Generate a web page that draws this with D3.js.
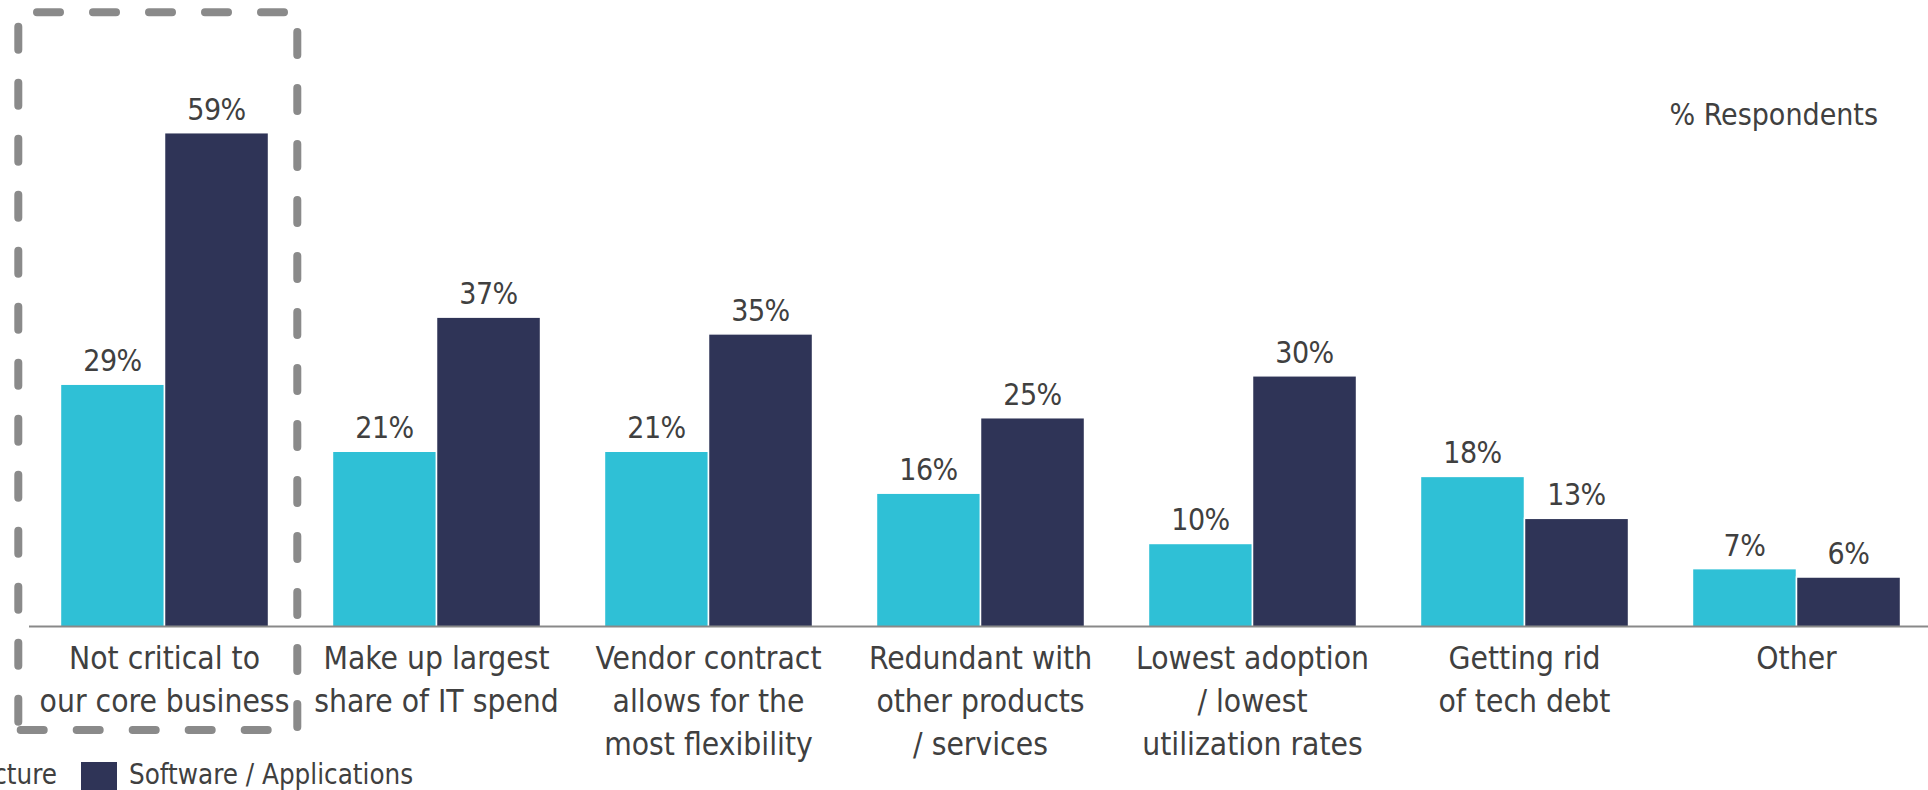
<!DOCTYPE html>
<html>
<head>
<meta charset="utf-8">
<script src="https://cdn.jsdelivr.net/npm/d3@7"></script>
<style>
  html, body { margin: 0; padding: 0; background: #fff; overflow: hidden; }
  svg { display: block; }
  text { font-family: "DejaVu Sans Condensed", "DejaVu Sans", sans-serif; font-stretch: condensed; fill: #404040; }
</style>
</head>
<body>
<svg id="chart" width="1928" height="790"></svg>
<script>
// Reasons given for cutting a vendor, by spend type
const categories = [
  "Not critical to\nour core business",
  "Make up largest\nshare of IT spend",
  "Vendor contract\nallows for the\nmost flexibility",
  "Redundant with\nother products\n/ services",
  "Lowest adoption\n/ lowest\nutilization rates",
  "Getting rid\nof tech debt",
  "Other"
];
const seriesNames = ["Infrastructure", "Software / Applications"];
const infrastructure = [29, 21, 21, 16, 10, 18, 7];
const software = [59, 37, 35, 25, 30, 13, 6];
const seriesColors = ["#2fc0d6", "#2f3457"];

const rows = categories.map((c, i) => ({ category: c, values: [infrastructure[i], software[i]] }));

const svg = d3.select("#chart");

const x = d3.scaleBand()
  .domain(categories)
  .range([28.5, 1932.5])
  .paddingInner(0.235)
  .paddingOuter(0.1175);

const xSeries = d3.scaleBand()
  .domain(d3.range(seriesNames.length))
  .range([0, x.bandwidth()]);

const y = d3.scaleLinear().domain([0, 59]).range([627.3, 132.7]);

// Bars
const groups = svg.append("g").selectAll("g")
  .data(rows)
  .join("g")
  .attr("transform", d => `translate(${x(d.category)},0)`);

groups.selectAll("rect")
  .data(d => d.values.map((v, s) => ({ v, s })))
  .join("rect")
  .attr("x", d => xSeries(d.s))
  .attr("width", xSeries.bandwidth())
  .attr("y", d => y(d.v))
  .attr("height", d => y(0) - y(d.v))
  .attr("fill", d => seriesColors[d.s])
  .attr("stroke", "#ffffff")
  .attr("stroke-width", 1.5);

// Value labels
groups.selectAll("text.value")
  .data(d => d.values.map((v, s) => ({ v, s })))
  .join("text")
  .attr("class", "value")
  .attr("x", d => xSeries(d.s) + xSeries.bandwidth() / 2)
  .attr("y", d => y(d.v) - 13)
  .attr("text-anchor", "middle")
  .style("font-size", "30px")
  .style("letter-spacing", "-0.5px")
  .text(d => d.v + "%");

// Baseline axis
const xAxis = d3.axisBottom(x).tickSize(0).tickFormat("");
const axisG = svg.append("g").attr("transform", "translate(0,626)").call(xAxis);
axisG.select(".domain").attr("stroke", "#898989").attr("stroke-width", 2);

// Category labels (multi-line)
const labelG = svg.append("g");
labelG.selectAll("text")
  .data(categories)
  .join("text")
  .attr("text-anchor", "middle")
  .style("font-size", "31.5px")
  .attr("transform", d => `translate(${x(d) + x.bandwidth() / 2},669)`)
  .selectAll("tspan")
  .data(d => d.split("\n"))
  .join("tspan")
  .attr("x", 0)
  .attr("y", (d, i) => i * 43)
  .text(d => d);

// Unit note
svg.append("text")
  .attr("x", 1878)
  .attr("y", 125)
  .attr("text-anchor", "end")
  .style("font-size", "30px")
  .text("% Respondents");

// Highlight box around the first category
const dash = { stroke: "#8a8a8a", width: 8, pattern: "23 33" };
const boxSides = [
  [[37, 12.3], [284, 12.3]],
  [[297.3, 32], [297.3, 727]],
  [[20.7, 730], [267.7, 730]],
  [[18.3, 26.7], [18.3, 721.7]]
];
svg.append("g").selectAll("line")
  .data(boxSides)
  .join("line")
  .attr("x1", d => d[0][0]).attr("y1", d => d[0][1])
  .attr("x2", d => d[1][0]).attr("y2", d => d[1][1])
  .attr("stroke", dash.stroke)
  .attr("stroke-width", dash.width)
  .attr("stroke-dasharray", dash.pattern)
  .attr("stroke-linecap", "round");

// Legend (first entry runs off the left edge)
const legend = svg.append("g").attr("transform", "translate(0,784)");
const legendSoftware = legend.append("g").attr("transform", "translate(81,0)");
legendSoftware.append("rect")
  .attr("x", 0).attr("y", -22).attr("width", 36).attr("height", 36)
  .attr("fill", seriesColors[1]);
legendSoftware.append("text")
  .attr("x", 48).attr("y", 0)
  .style("font-size", "27.5px")
  .text(seriesNames[1]);

const legendInfra = legend.append("g");
const infraText = legendInfra.append("text")
  .attr("x", 57).attr("y", 0)
  .attr("text-anchor", "end")
  .style("font-size", "27.5px")
  .text(seriesNames[0]);
const infraWidth = infraText.node().getComputedTextLength();
legendInfra.append("rect")
  .attr("x", 57 - infraWidth - 48).attr("y", -22).attr("width", 36).attr("height", 36)
  .attr("fill", seriesColors[0]);
</script>
</body>
</html>
